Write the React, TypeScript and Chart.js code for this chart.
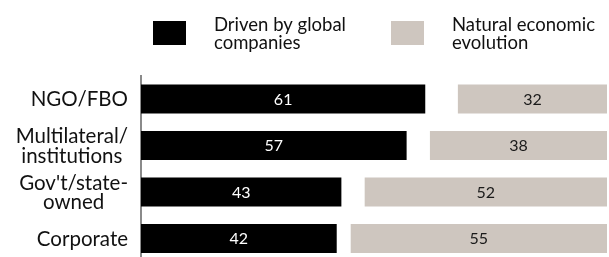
import React, { useEffect, useRef } from "react";
import { Chart, registerables } from "chart.js";

Chart.register(...registerables);

const categories: string[][] = [
  ["NGO/FBO"],
  ["Multilateral/", "institutions"],
  ["Gov't/state-", "owned"],
  ["Corporate"],
];
const drivenByGlobal = [61, 57, 43, 42];
const otherShare = [7, 5, 5, 3];
const naturalEvolution = [32, 38, 52, 55];
const legendItems = [
  { lines: ["Driven by global", "companies"], color: "#000000" },
  { lines: ["Natural economic", "evolution"], color: "#cec6bf" },
];

const FONT = "Lato, sans-serif";

const valueLabels = {
  id: "valueLabels",
  afterDatasetsDraw(chart: any) {
    const ctx = chart.ctx;
    ctx.save();
    ctx.font = `16px ${FONT}`;
    ctx.textAlign = "center";
    ctx.textBaseline = "alphabetic";
    chart.data.datasets.forEach((ds: any, di: number) => {
      if (ds.hideLabel) return;
      const meta = chart.getDatasetMeta(di);
      meta.data.forEach((el: any, i: number) => {
        const p = el.getProps(["x", "y", "base"], true);
        const cx = (p.x + p.base) / 2;
        ctx.fillStyle = ds.labelColor;
        ctx.fillText(String(ds.data[i]), cx, p.y + 5.5);
      });
    });
    ctx.restore();
  },
};

const categoryLabels = {
  id: "categoryLabels",
  afterDraw(chart: any) {
    const ctx = chart.ctx;
    const scale = chart.scales.y;
    ctx.save();
    ctx.font = `20.5px ${FONT}`;
    ctx.fillStyle = "#111";
    ctx.textAlign = "center";
    ctx.textBaseline = "alphabetic";
    const right = scale.right - 13;
    const capH = 14.7;
    const lh = 19.5;
    categories.forEach((lines, i) => {
      const y = scale.getPixelForTick(i);
      const w = Math.max(...lines.map((l) => ctx.measureText(l).width));
      const cx = right - w / 2;
      lines.forEach((l, j) => {
        ctx.fillText(l, cx, y + capH / 2 + (j - (lines.length - 1) / 2) * lh);
      });
    });
    ctx.restore();
  },
};

const customLegend = {
  id: "customLegend",
  afterDraw(chart: any) {
    const ctx = chart.ctx;
    ctx.save();
    const boxX = [153, 391];
    legendItems.forEach((it, i) => {
      ctx.fillStyle = it.color;
      ctx.fillRect(boxX[i], 21, 33, 24);
      ctx.fillStyle = "#111";
      ctx.font = `18.5px ${FONT}`;
      ctx.textAlign = "left";
      ctx.textBaseline = "alphabetic";
      it.lines.forEach((l, j) => ctx.fillText(l, boxX[i] + 61, 31 + j * 17.5));
    });
    ctx.restore();
  },
};

export default function App() {
  const ref = useRef<HTMLCanvasElement>(null);
  useEffect(() => {
    const common = { barPercentage: 0.624, categoryPercentage: 1 };
    const chart = new Chart(ref.current!, {
      type: "bar",
      data: {
        labels: categories.map((c) => c.join(" ")),
        datasets: [
          {
            label: "Driven by global companies",
            data: drivenByGlobal,
            backgroundColor: "#000000",
            labelColor: "#ffffff",
            ...common,
          } as any,
          {
            label: "Other",
            data: otherShare,
            backgroundColor: "rgba(0,0,0,0)",
            hideLabel: true,
            ...common,
          } as any,
          {
            label: "Natural economic evolution",
            data: naturalEvolution,
            backgroundColor: "#cec6bf",
            labelColor: "#1a1a1a",
            ...common,
          } as any,
        ],
      },
      options: {
        indexAxis: "y",
        animation: false,
        responsive: true,
        maintainAspectRatio: false,
        layout: { padding: { left: 0, right: 2, top: 75.75, bottom: 2.25 } },
        plugins: { legend: { display: false }, tooltip: { enabled: false } },
        scales: {
          x: { type: "linear", stacked: true, min: 0, max: 100, display: false },
          y: {
            type: "category",
            stacked: true,
            grid: { display: false, drawTicks: false },
            border: { display: true, color: "#8a8a8a", width: 2 },
            afterFit: (s: any) => {
              s.width = 141;
              s.paddingTop = 0;
              s.paddingBottom = 0;
            },
            ticks: { display: false },
          },
        },
      },
      plugins: [valueLabels, categoryLabels, customLegend],
    });
    return () => chart.destroy();
  }, []);
  return (
    <div style={{ position: "fixed", left: 0, top: 0, width: 609, height: 264, background: "#fff" }}>
      <canvas ref={ref} />
    </div>
  );
}
